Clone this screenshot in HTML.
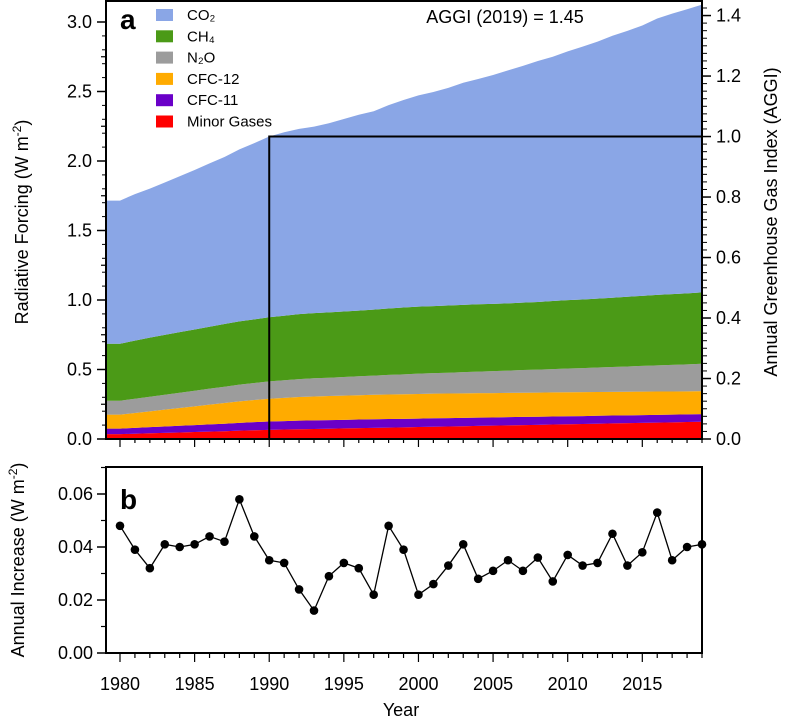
<!DOCTYPE html>
<html><head><meta charset="utf-8"><style>
body{margin:0;background:#fff;}
svg{display:block;font-family:"Liberation Sans",sans-serif;}
</style></head><body>
<svg id="chart" width="787" height="720" viewBox="0 0 787 720"></svg>
<script>
const years=[1980,1981,1982,1983,1984,1985,1986,1987,1988,1989,1990,1991,1992,1993,1994,1995,1996,1997,1998,1999,2000,2001,2002,2003,2004,2005,2006,2007,2008,2009,2010,2011,2012,2013,2014,2015,2016,2017,2018,2019];
const minorGases=[.035,.038,.041,.044,.047,.050,.053,.056,.060,.063,.066,.068,.070,.072,.074,.076,.078,.080,.082,.084,.086,.088,.090,.092,.094,.096,.098,.100,.102,.104,.106,.108,.110,.112,.114,.116,.118,.120,.122,.124];
const cfc11=[.040,.042,.044,.046,.048,.050,.052,.054,.056,.058,.060,.061,.062,.062,.062,.062,.062,.062,.062,.061,.061,.061,.060,.060,.060,.059,.059,.059,.058,.058,.058,.057,.057,.057,.056,.056,.056,.055,.055,.055];
const cfc12=[.100,.107,.114,.121,.128,.135,.142,.149,.155,.160,.164,.167,.170,.172,.173,.174,.175,.176,.176,.177,.177,.177,.177,.176,.176,.175,.175,.174,.174,.173,.172,.172,.171,.170,.170,.169,.168,.167,.166,.165];
const n2o=[.100,.103,.105,.107,.110,.112,.115,.117,.120,.122,.125,.127,.129,.131,.132,.134,.136,.138,.141,.143,.146,.148,.150,.153,.155,.158,.160,.163,.165,.168,.171,.173,.176,.179,.182,.185,.188,.191,.194,.197];
const ch4=[.410,.418,.425,.431,.436,.441,.446,.451,.455,.458,.461,.464,.467,.469,.470,.471,.473,.475,.478,.481,.482,.482,.483,.484,.484,.484,.484,.485,.487,.490,.492,.494,.496,.498,.501,.504,.507,.509,.511,.514];
const co2=[1.030,1.054,1.072,1.096,1.121,1.147,1.175,1.202,1.238,1.268,1.300,1.320,1.333,1.341,1.361,1.385,1.409,1.427,1.463,1.493,1.520,1.540,1.566,1.598,1.621,1.647,1.676,1.703,1.733,1.757,1.790,1.819,1.849,1.885,1.913,1.945,1.988,2.018,2.044,2.070];
const annualIncrease=[.048,.039,.032,.041,.040,.041,.044,.042,.058,.044,.035,.034,.024,.016,.029,.034,.032,.022,.048,.039,.022,.026,.033,.041,.028,.031,.035,.031,.036,.027,.037,.033,.034,.045,.033,.038,.053,.035,.040,.041];
const leftTicks=["0.0","0.5","1.0","1.5","2.0","2.5","3.0"];
const rightTicks=["0.0","0.2","0.4","0.6","0.8","1.0","1.2","1.4"];
const bTicks=["0.00","0.02","0.04","0.06"];
const xTicks=["1980","1985","1990","1995","2000","2005","2010","2015"];
const aggiYear=1990, aggiValue=1.45;

const NS="http://www.w3.org/2000/svg";
const svg=document.getElementById('chart');
function mk(tag,at,parent){const e=document.createElementNS(NS,tag);for(const k in at)e.setAttribute(k,at[k]);(parent||svg).appendChild(e);return e;}
const L=106,R=702;
const x=yr=>120+(yr-1980)*(582/39);
const yA=v=>439-v*139;
const yB=v=>653-v*(159/0.06);

const layers=[["minor-gases",minorGases,"#ff0000"],["cfc-11",cfc11,"#6a00c8"],["cfc-12",cfc12,"#ffab00"],["n2o",n2o,"#9c9c9c"],["ch4",ch4,"#4b9a17"],["co2",co2,"#8aa6e6"]];
let base=years.map(()=>0);
layers.forEach(([name,vals,col])=>{
  const top=base.map((b,i)=>b+vals[i]);
  let d="M"+L+","+yA(top[0]);
  years.forEach((yr,i)=>{d+=" L"+x(yr)+","+yA(top[i]);});
  d+=" L"+R+","+yA(base[base.length-1]);
  for(let i=years.length-1;i>=0;i--)d+=" L"+x(years[i])+","+yA(base[i]);
  d+=" L"+L+","+yA(base[0])+"Z";
  const p=mk('path',{d:d,fill:col});
  
  
  base=top;
});
const i90=years.indexOf(aggiYear);
const ref=base[i90];
const ln=mk('path',{d:`M${x(aggiYear)},${yA(0)} L${x(aggiYear)},${yA(ref)} L${R},${yA(ref)}`,fill:"none",stroke:"#000","stroke-width":2});


const fa=mk('rect',{x:L,y:1,width:R-L,height:438,fill:"none",stroke:"#000","stroke-width":2});


leftTicks.forEach((t,i)=>{const v=i*0.5;
  mk('line',{x1:L-9,x2:L,y1:yA(v),y2:yA(v),stroke:"#000","stroke-width":1.5});
  if(i<6)mk('line',{x1:L-5,x2:L,y1:yA(v+0.25),y2:yA(v+0.25),stroke:"#000","stroke-width":1.2});
  const tx=mk('text',{x:L-14,y:yA(v)+6,"text-anchor":"end","font-size":18});tx.textContent=t;
  
});
for(let v=0;v<=3.1;v+=0.1)mk('line',{x1:L-4,x2:L,y1:yA(v),y2:yA(v),stroke:"#000","stroke-width":1});
const yR=v=>yA(v*ref);
rightTicks.forEach((t,i)=>{const v=i*0.2;
  mk('line',{x1:R,x2:R+9,y1:yR(v),y2:yR(v),stroke:"#000","stroke-width":1.5});
  const tx=mk('text',{x:R+14,y:yR(v)+6,"font-size":18});tx.textContent=t;
  
});
for(let v=0;v<=1.44;v+=0.025)mk('line',{x1:R,x2:R+5,y1:yR(v),y2:yR(v),stroke:"#000","stroke-width":1});
for(let yr=1980;yr<=2019;yr++){const big=yr%5===0;mk('line',{x1:x(yr),x2:x(yr),y1:439,y2:439+(big?8:4),stroke:"#000","stroke-width":1.2});}
let t=mk('text',{x:120,y:29,"font-size":28,"font-weight":"bold"});t.textContent="a";
t=mk('text',{x:505,y:23,"font-size":18,"text-anchor":"middle"});t.textContent="AGGI (2019) = "+aggiValue.toFixed(2);
t=mk('text',{x:0,y:0,"font-size":18,"text-anchor":"middle",transform:"translate(28,222) rotate(-90)"});t.innerHTML='Radiative Forcing (W m<tspan dy="-7" font-size="12">-2</tspan><tspan dy="7">)</tspan>';
t=mk('text',{x:0,y:0,"font-size":18,"text-anchor":"middle",transform:"translate(777,222) rotate(-90)"});t.textContent="Annual Greenhouse Gas Index (AGGI)";
const leg=[["CO₂","#8aa6e6"],["CH₄","#4b9a17"],["N₂O","#9c9c9c"],["CFC-12","#ffab00"],["CFC-11","#6a00c8"],["Minor Gases","#ff0000"]];
leg.forEach(([lab,col],i)=>{const g=mk('g',{});
  const yy=15+i*21.3;
  mk('rect',{x:156,y:yy-6,width:17,height:12,fill:col},g);
  const tt=mk('text',{x:187,y:yy+5,"font-size":15},g);tt.textContent=lab;});
const fb=mk('rect',{x:L,y:467,width:R-L,height:186,fill:"none",stroke:"#000","stroke-width":2});

bTicks.forEach((tk,i)=>{const v=i*0.02;
  mk('line',{x1:L-9,x2:L,y1:yB(v),y2:yB(v),stroke:"#000","stroke-width":1.5});
  mk('line',{x1:L-5,x2:L,y1:yB(v+0.01),y2:yB(v+0.01),stroke:"#000","stroke-width":1.2});
  const tx=mk('text',{x:L-13,y:yB(v)+6,"text-anchor":"end","font-size":18});tx.textContent=tk;
  });
for(let yr=1980;yr<=2019;yr++){const big=yr%5===0;mk('line',{x1:x(yr),x2:x(yr),y1:653,y2:653+(big?9:5),stroke:"#000","stroke-width":1.2});}
xTicks.forEach(tk=>{const tx=mk('text',{x:x(+tk),y:690,"text-anchor":"middle","font-size":18});tx.textContent=tk;
  });
let d="";years.forEach((yr,i)=>{d+=(i?" L":"M")+x(yr)+","+yB(annualIncrease[i]);});
const pl=mk('path',{d:d,fill:"none",stroke:"#000","stroke-width":1.3});
years.forEach((yr,i)=>{const c=mk('circle',{cx:x(yr),cy:yB(annualIncrease[i]),r:4.3,fill:"#000"});
  
  });
t=mk('text',{x:120,y:509,"font-size":28,"font-weight":"bold"});t.textContent="b";
t=mk('text',{x:0,y:0,"font-size":18,"text-anchor":"middle",transform:"translate(24,560) rotate(-90)"});t.innerHTML='Annual Increase (W m<tspan dy="-7" font-size="12">-2</tspan><tspan dy="7">)</tspan>';
t=mk('text',{x:401,y:716,"font-size":18,"text-anchor":"middle"});t.textContent="Year";
</script>
</body></html>
